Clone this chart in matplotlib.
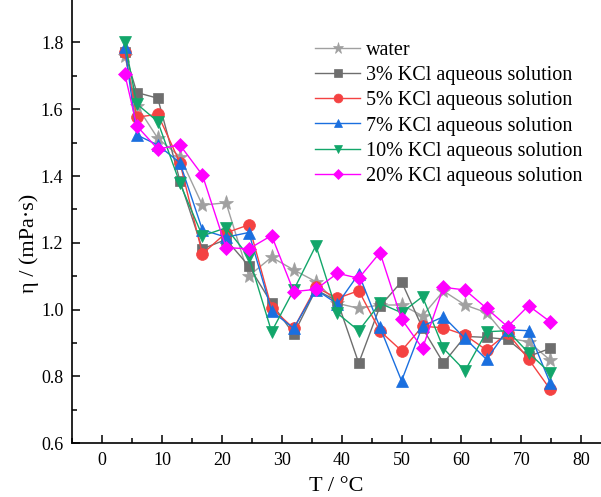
import matplotlib
matplotlib.use("Agg")
import matplotlib.pyplot as plt
from matplotlib.ticker import MultipleLocator, FixedLocator

T = [3.8, 5.8, 9.3, 13.0, 16.75, 20.7, 24.5, 28.3, 32.0, 35.7, 39.3, 42.85,
     46.4, 50.0, 53.5, 57.0, 60.6, 64.2, 67.7, 71.2, 74.8]

water = [1.76, 1.61, 1.513, 1.458, 1.313, 1.32, 1.101, 1.157, 1.119, 1.084, 1.019,
         1.004, 1.014, 1.014, 0.982, 1.056, 1.014, 0.991, 0.915, 0.904, 0.849]
kcl3 = [1.77, 1.650, 1.633, 1.386, 1.182, 1.21, 1.131, 1.019, 0.927, 1.06, 1.025,
        0.84, 1.01, 1.084, 0.945, 0.84, 0.92, 0.917, 0.911, 0.86, 0.884]
kcl5 = [1.77, 1.576, 1.585, 1.44, 1.167, 1.23, 1.254, 1.005, 0.944, 1.067, 1.034,
        1.057, 0.936, 0.877, 0.95, 0.946, 0.924, 0.879, 0.93, 0.852, 0.762]
kcl7 = [1.785, 1.523, 1.493, 1.44, 1.239, 1.217, 1.231, 0.996, 0.944, 1.06, 1.017,
        1.107, 0.947, 0.787, 0.951, 0.979, 0.914, 0.851, 0.94, 0.937, 0.781]
kcl10 = [1.80, 1.616, 1.563, 1.378, 1.221, 1.245, 1.159, 0.934, 1.059, 1.192, 0.989,
         0.937, 1.019, 0.991, 1.039, 0.884, 0.817, 0.934, 0.937, 0.871, 0.811]
kcl20 = [1.705, 1.55, 1.481, 1.493, 1.403, 1.186, 1.182, 1.222, 1.054, 1.061, 1.109,
         1.094, 1.171, 0.972, 0.884, 1.067, 1.059, 1.004, 0.949, 1.012, 0.964]

labels = ["water", "3% KCl aqueous solution", "5% KCl aqueous solution",
          "7% KCl aqueous solution", "10% KCl aqueous solution",
          "20% KCl aqueous solution"]
series = [water, kcl3, kcl5, kcl7, kcl10, kcl20]
colors = ["#A0A0A0", "#6E6E6E", "#F44242", "#1A6FDF", "#12A66A", "#FF00FF"]
markers = ["*", "s", "o", "^", "v", "D"]
msizes = [11, 7, 8.5, 8.5, 8.5, 7]

plt.rcParams['font.family'] = ['Liberation Serif', 'DejaVu Serif']

fig = plt.figure(figsize=(6.01, 4.97), dpi=100)
ax = fig.add_axes([71.7 / 601, (497 - 443.3) / 497, 1 - 71.7 / 601, 443.3 / 497])

for y, lab, c, m, ms in zip(series, labels, colors, markers, msizes):
    ax.plot(T, y, color=c, marker=m, markersize=ms, lw=1.0, label=lab,
            markeredgewidth=0.5, markeredgecolor=c)

ax.set_xlim(-5.07, 83.3)
ax.set_ylim(0.6, 1.927)
ax.xaxis.set_major_locator(MultipleLocator(10))
ax.xaxis.set_minor_locator(MultipleLocator(5))
ax.set_yticks([0.6, 0.8, 1.0, 1.2, 1.4, 1.6, 1.8])
ax.set_yticklabels(["0.6", "0.8", "1.0", "1.2", "1.4", "1.6", "1.8"])
ax.yaxis.set_minor_locator(FixedLocator([0.7, 0.9, 1.1, 1.3, 1.5, 1.7]))

for s in ["top", "right"]:
    ax.spines[s].set_visible(False)
for s in ["left", "bottom"]:
    ax.spines[s].set_linewidth(1.2)

ax.tick_params(which="major", direction="in", length=6, width=1.1, labelsize=13, pad=6)
ax.tick_params(which="minor", direction="in", length=3.5, width=1.1)

ax.set_xlabel("T / °C", fontsize=16, labelpad=6)
ax.set_ylabel("η / (mPa·s)", fontsize=16, labelpad=1, y=0.45)

leg = ax.legend(loc="upper left", bbox_to_anchor=(315 / 601, 1 - 41 / 497),
                bbox_transform=fig.transFigure, frameon=False, fontsize=14.5,
                handlelength=2.25, handletextpad=0.3, labelspacing=0.3,
                borderpad=0, borderaxespad=0, markerscale=0.75)

fig.savefig("out.png", dpi=100)
